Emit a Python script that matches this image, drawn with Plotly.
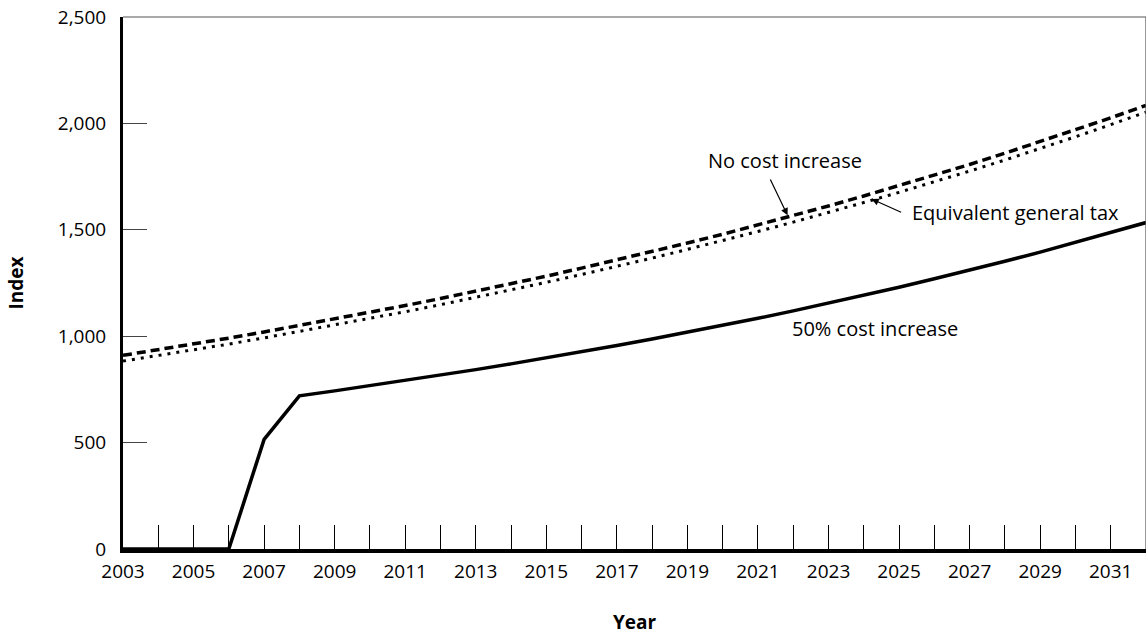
import plotly.graph_objects as go

# Projection years
years = list(range(2003, 2033))

# Index values per scenario
no_cost_increase = [910, 936, 964, 991, 1020, 1050, 1080, 1112, 1144, 1177,
                    1211, 1246, 1282, 1320, 1358, 1397, 1438, 1479, 1522, 1567,
                    1612, 1659, 1707, 1756, 1807, 1860, 1914, 1969, 2026, 2085]
equivalent_general_tax = [883, 909, 936, 963, 992, 1022, 1052, 1083, 1115, 1148,
                          1182, 1217, 1253, 1290, 1328, 1367, 1408, 1449, 1492, 1536,
                          1581, 1628, 1676, 1725, 1776, 1828, 1882, 1937, 1994, 2053]
cost_increase_50 = [0, 0, 0, 0, 515, 720, 743, 767, 791, 817,
                    843, 870, 898, 926, 956, 987, 1018, 1051, 1084, 1119,
                    1155, 1192, 1230, 1270, 1310, 1352, 1395, 1440, 1486, 1534]

# Tick labels
x_tick_vals = list(range(2003, 2032))
x_tick_text = [str(y) if (y - 2003) % 2 == 0 else "" for y in x_tick_vals]
y_tick_vals = [0, 500, 1000, 1500, 2000, 2500]

FONT = "Open Sans"
FS = 20
TICK_FS = 19

fig = go.Figure()
fig.add_trace(go.Scatter(x=years, y=equivalent_general_tax, mode="lines",
                         line=dict(color="black", width=3, dash="3px,6px"),
                         name="Equivalent general tax"))
fig.add_trace(go.Scatter(x=years, y=no_cost_increase, mode="lines",
                         line=dict(color="black", width=3.5, dash="9px,5px"),
                         name="No cost increase"))
fig.add_trace(go.Scatter(x=years, y=cost_increase_50, mode="lines",
                         line=dict(color="black", width=3.5),
                         name="50% cost increase", cliponaxis=False))

fig.update_layout(
    width=1146, height=635,
    margin=dict(l=123, r=0, t=17, b=86),
    paper_bgcolor="white", plot_bgcolor="white",
    showlegend=False,
    font=dict(family=FONT, size=FS, color="black"),
    xaxis=dict(
        range=[2003, 2032], tickmode="array", tickvals=x_tick_vals, ticktext=x_tick_text,
        ticks="inside", ticklen=24, tickwidth=1, tickcolor="black",
        showline=True, linecolor="black", linewidth=4,
        showgrid=False, zeroline=False,
        tickfont=dict(size=TICK_FS),
        ticklabelstandoff=2,
        title=dict(text="<b>Year</b>", font=dict(size=FS - 1), standoff=36),
    ),
    yaxis=dict(
        range=[0, 2500], tickmode="array", tickvals=y_tick_vals, tickformat=",d",
        ticks="inside", ticklen=24, tickwidth=1, tickcolor="#444",
        showline=True, linecolor="black", linewidth=3,
        showgrid=False, zeroline=False,
        tickfont=dict(size=TICK_FS),
        ticklabelstandoff=10,
        title=dict(text="<b>Index</b>", font=dict(size=FS - 1), standoff=30),
    ),
)

# Thin frame on the top and right edges
fig.add_shape(type="line", xref="paper", yref="paper", x0=0, y0=1, x1=1, y1=1,
              line=dict(color="#555", width=1.2))
fig.add_shape(type="line", xref="paper", yref="paper", x0=1, y0=0, x1=1, y1=1,
              line=dict(color="#555", width=1.2))

# Series labels
fig.add_annotation(x=2021.76, y=1828, text="No cost increase", showarrow=False,
                   xanchor="center", yanchor="middle", font=dict(size=FS))
fig.add_annotation(x=2025.3, y=1579, text="Equivalent general tax", showarrow=False,
                   xanchor="left", yanchor="middle", font=dict(size=FS))
fig.add_annotation(x=2021.9, y=1034, text="50% cost increase", showarrow=False,
                   xanchor="left", yanchor="middle", font=dict(size=FS))

# Leader arrows
fig.add_annotation(x=2021.84, y=1568, ax=2021.33, ay=1743, axref="x", ayref="y",
                   xref="x", yref="y", text="", showarrow=True,
                   arrowhead=2, arrowsize=1.2, arrowwidth=1.2, arrowcolor="black")
fig.add_annotation(x=2024.22, y=1645, ax=2025.1, ay=1579, axref="x", ayref="y",
                   xref="x", yref="y", text="", showarrow=True,
                   arrowhead=2, arrowsize=1.2, arrowwidth=1.2, arrowcolor="black")

fig.write_html("out.html")
